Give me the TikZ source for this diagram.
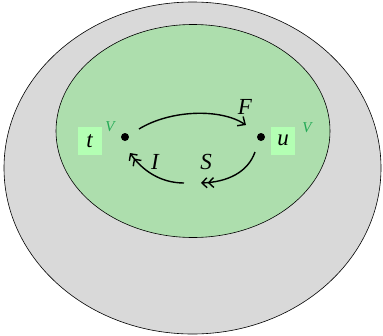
\documentclass[tikz,border=0pt]{standalone}
\usepackage{fontspec}
\setmainfont{Liberation Serif}
\usetikzlibrary{arrows.meta}
\definecolor{outerfill}{HTML}{D9D9D9}
\definecolor{innerfill}{HTML}{ADDEAD}
\definecolor{boxfill}{HTML}{B3FFB3}
\definecolor{vgreen}{HTML}{22AA55}
\tikzset{
  lab/.style={fill=boxfill, font=\fontsize{23}{23}\selectfont\itshape, inner sep=0pt, minimum width=24pt, minimum height=28pt},
  vlab/.style={text=vgreen, font=\fontsize{15}{15}\selectfont\itshape, inner sep=0pt},
  arlab/.style={font=\fontsize{23}{23}\selectfont\itshape, inner sep=0pt},
  dot/.style={circle, fill=black, inner sep=0pt, minimum size=8pt},
  conn/.style={line width=1.4pt, -{Straight Barb[length=5pt,width=10pt]Straight Barb[length=5pt,width=10pt]}},
  conn1/.style={line width=1.4pt, -{Straight Barb[length=6pt,width=11pt]}}
}
\begin{document}
\begin{tikzpicture}[x=1pt,y=-1pt]
\useasboundingbox (0,0) rectangle (383,335);
\draw[fill=outerfill, line width=0.6pt] (192.5,168) ellipse [x radius=188.5, y radius=166];
\draw[fill=innerfill, line width=0.6pt] (193,131) ellipse [x radius=137, y radius=106.5];
\node[dot] (t) at (125,137) {};
\node[dot] (u) at (261,137) {};
\node[lab] (tl) at (89.5,141) {t};
\node[lab] (ul) at (283,140.5) {u};
\node[vlab] (tv) at (110,127) {V};
\node[vlab] (uv) at (307,128) {V};
\coordinate (s1) at (139,129);
\coordinate (e1) at (246,125);
\coordinate (s2) at (255,152);
\coordinate (e2) at (201,183);
\coordinate (s3) at (184,183);
\coordinate (e3) at (130,153);
\draw[conn1] (s1) .. controls (170,110) and (220,108) .. (e1);
\draw[conn] (s2) .. controls (248,172) and (228,182) .. (e2);
\draw[conn] (s3) .. controls (160,183) and (142,170) .. (e3);
\node[arlab] (F) at (245,107) {F};
\node[arlab] (I) at (155,162) {I};
\node[arlab] (S) at (206,162) {S};
\end{tikzpicture}
\end{document}
